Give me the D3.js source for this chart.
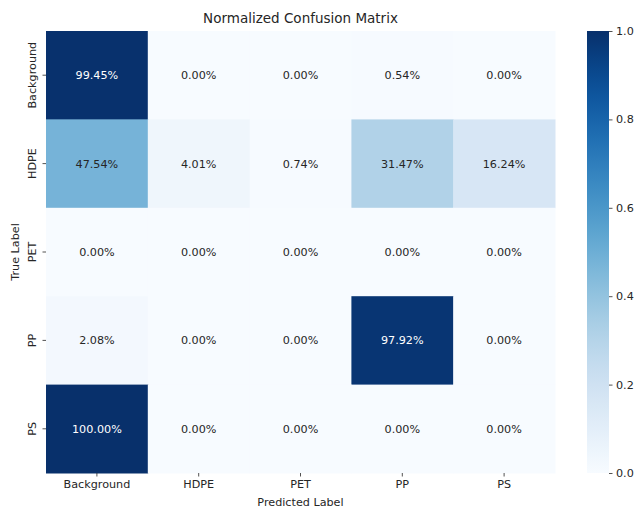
<!DOCTYPE html>
<head>
  <meta charset="utf-8">
  <script src="https://cdn.jsdelivr.net/npm/d3@7"></script>
  <style>
    body { margin:0; background:#fff; }
    text { font-family: "DejaVu Sans", sans-serif; fill:#262626; }
  </style>
</head>
<body>
<script>
  // data
  var classes = ["Background", "HDPE", "PET", "PP", "PS"];
  var rowBackground = [0.9945, 0.0000, 0.0000, 0.0054, 0.0000];
  var rowHDPE       = [0.4754, 0.0401, 0.0074, 0.3147, 0.1624];
  var rowPET        = [0.0000, 0.0000, 0.0000, 0.0000, 0.0000];
  var rowPP         = [0.0208, 0.0000, 0.0000, 0.9792, 0.0000];
  var rowPS         = [1.0000, 0.0000, 0.0000, 0.0000, 0.0000];
  var matrix = [rowBackground, rowHDPE, rowPET, rowPP, rowPS];
  var cbarTicks = [0, 0.2, 0.4, 0.6, 0.8, 1.0];

  var W = 636, H = 510;
  var m = {left: 46, top: 31, right: 555, bottom: 473};
  var fs = "11.2px";

  var svg = d3.select("body").append("svg")
      .attr("width", W).attr("height", H);

  var x = d3.scaleBand().domain(classes).range([m.left, m.right]);
  var y = d3.scaleBand().domain(classes).range([m.top, m.bottom]);
  var color = d3.scaleSequential(d3.interpolateBlues).domain([0, 1]);

  var cells = [];
  matrix.forEach(function(row, i) {
    row.forEach(function(v, j) {
      cells.push({r: classes[i], c: classes[j], v: v});
    });
  });

  svg.append("g").selectAll("rect").data(cells).enter().append("rect")
      .attr("x", function(d) { return x(d.c); })
      .attr("y", function(d) { return y(d.r); })
      .attr("width", x.bandwidth() + 0.5)
      .attr("height", y.bandwidth() + 0.5)
      .attr("fill", function(d) { return color(d.v); });

  // seaborn-like text colour switch
  function lum(c) {
    var rgb = d3.rgb(c);
    var f = function(v) { v /= 255; return v <= 0.03928 ? v / 12.92 : Math.pow((v + 0.055) / 1.055, 2.4); };
    return 0.2126 * f(rgb.r) + 0.7152 * f(rgb.g) + 0.0722 * f(rgb.b);
  }

  svg.append("g").selectAll("text").data(cells).enter().append("text")
      .attr("x", function(d) { return x(d.c) + x.bandwidth() / 2; })
      .attr("y", function(d) { return y(d.r) + y.bandwidth() / 2; })
      .attr("text-anchor", "middle")
      .attr("dy", "0.35em")
      .style("font-size", fs)
      .style("fill", function(d) { return lum(color(d.v)) < 0.408 ? "#fff" : "#262626"; })
      .text(function(d) { return (d.v * 100).toFixed(2) + "%"; });

  // axes
  var xAxis = svg.append("g")
      .attr("transform", "translate(0," + m.bottom + ")")
      .call(d3.axisBottom(x).tickSize(3.5).tickPadding(3.5));
  var yAxis = svg.append("g")
      .attr("transform", "translate(" + m.left + ",0)")
      .call(d3.axisLeft(y).tickSize(3.5).tickPadding(3.5));
  [xAxis, yAxis].forEach(function(a) {
    a.select(".domain").remove();
    a.selectAll("line").attr("stroke", "#262626").attr("stroke-width", 0.8);
    a.selectAll("text").style("font-size", fs).attr("font-family", "DejaVu Sans").attr("fill", "#262626");
  });
  yAxis.selectAll(".tick text")
      .attr("text-anchor", "middle")
      .attr("dy", 0)
      .attr("x", 0)
      .attr("transform", "translate(-10,0) rotate(-90)");

  svg.append("text")
      .attr("x", (m.left + m.right) / 2).attr("y", 506)
      .attr("text-anchor", "middle").style("font-size", fs)
      .text("Predicted Label");
  svg.append("text")
      .attr("transform", "translate(18.5," + (m.top + m.bottom) / 2 + ") rotate(-90)")
      .attr("text-anchor", "middle").style("font-size", fs)
      .text("True Label");
  svg.append("text")
      .attr("x", (m.left + m.right) / 2).attr("y", 23)
      .attr("text-anchor", "middle").style("font-size", "13.5px")
      .text("Normalized Confusion Matrix");

  // colorbar
  var cb = {x: 587, w: 22};
  var defs = svg.append("defs");
  var grad = defs.append("linearGradient").attr("id", "cbgrad")
      .attr("x1", 0).attr("y1", 1).attr("x2", 0).attr("y2", 0);
  d3.range(0, 1.0001, 0.05).forEach(function(t) {
    grad.append("stop").attr("offset", t).attr("stop-color", color(t));
  });
  svg.append("rect")
      .attr("x", cb.x).attr("y", m.top)
      .attr("width", cb.w).attr("height", m.bottom - m.top)
      .attr("fill", "url(#cbgrad)");
  var cy = d3.scaleLinear().domain([0, 1]).range([m.bottom, m.top]);
  var cAxis = svg.append("g")
      .attr("transform", "translate(" + (cb.x + cb.w) + ",0)")
      .call(d3.axisRight(cy).tickValues(cbarTicks).tickFormat(d3.format(".1f")).tickSize(3.5).tickPadding(3.5));
  cAxis.select(".domain").remove();
  cAxis.selectAll("line").attr("stroke", "#262626").attr("stroke-width", 0.8);
  cAxis.selectAll("text").style("font-size", fs).attr("font-family", "DejaVu Sans").attr("fill", "#262626");
</script>
</body>
